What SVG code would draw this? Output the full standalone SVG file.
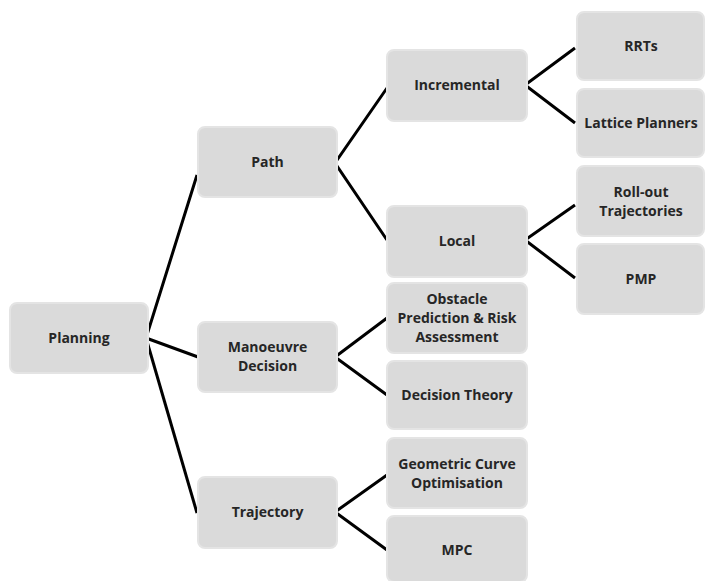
<svg xmlns="http://www.w3.org/2000/svg" width="707" height="581" viewBox="0 0 707 581">
<style>
.box{fill:#dadada;stroke:#e4e4e4;stroke-width:2}
.t{font-family:"Open Sans","Noto Sans",sans-serif;font-weight:bold;font-size:14px;fill:#262626;text-anchor:middle}
.c{stroke:#000;stroke-width:3;fill:none;stroke-linejoin:miter}
</style>
<rect width="707" height="581" fill="#fff"/>
<g id="connectors">
<polyline class="c" points="197,175 146,338 198,357"/>
<polyline class="c" points="146,338 197,513"/>
<polyline class="c" points="387,88 335,163 387,240"/>
<polyline class="c" points="575,48 525,85 575,123"/>
<polyline class="c" points="575,205 525,240 575,278"/>
<polyline class="c" points="387,318 335,357 387,395"/>
<polyline class="c" points="387,475 335,512 387,550"/>
</g>
<g id="planning"><rect class="box" x="10" y="303" width="138" height="70" rx="7"/><text class="t" x="79" y="343">Planning</text></g>
<g id="path"><rect class="box" x="198" y="127" width="139" height="70" rx="7"/><text class="t" x="267.5" y="167">Path</text></g>
<g id="manoeuvre"><rect class="box" x="198" y="322" width="139" height="70" rx="7"/><text class="t" x="267.5" y="352">Manoeuvre</text><text class="t" x="267.5" y="371">Decision</text></g>
<g id="trajectory"><rect class="box" x="198" y="477" width="139" height="71" rx="7"/><text class="t" x="267.5" y="517">Trajectory</text></g>
<g id="incremental"><rect class="box" x="387" y="50" width="140" height="71" rx="7"/><text class="t" x="457" y="90">Incremental</text></g>
<g id="local"><rect class="box" x="387" y="206" width="140" height="71" rx="7"/><text class="t" x="457" y="246">Local</text></g>
<g id="obstacle"><rect class="box" x="387" y="283" width="140" height="70" rx="7"/><text class="t" x="457" y="304">Obstacle</text><text class="t" x="457" y="323">Prediction &amp; Risk</text><text class="t" x="457" y="342">Assessment</text></g>
<g id="decision-theory"><rect class="box" x="387" y="361" width="140" height="68" rx="7"/><text class="t" x="457" y="400">Decision Theory</text></g>
<g id="geometric"><rect class="box" x="387" y="438" width="140" height="70" rx="7"/><text class="t" x="457" y="469">Geometric Curve</text><text class="t" x="457" y="488">Optimisation</text></g>
<g id="mpc"><rect class="box" x="387" y="516" width="140" height="66" rx="7"/><text class="t" x="457" y="555">MPC</text></g>
<g id="rrts"><rect class="box" x="577" y="12" width="127" height="68" rx="7"/><text class="t" x="641" y="51">RRTs</text></g>
<g id="lattice"><rect class="box" x="577" y="89" width="127" height="68" rx="7"/><text class="t" x="641" y="128">Lattice Planners</text></g>
<g id="rollout"><rect class="box" x="577" y="166" width="127" height="70" rx="7"/><text class="t" x="641" y="197">Roll-out</text><text class="t" x="641" y="216">Trajectories</text></g>
<g id="pmp"><rect class="box" x="577" y="244" width="127" height="70" rx="7"/><text class="t" x="641" y="284">PMP</text></g>
</svg>
